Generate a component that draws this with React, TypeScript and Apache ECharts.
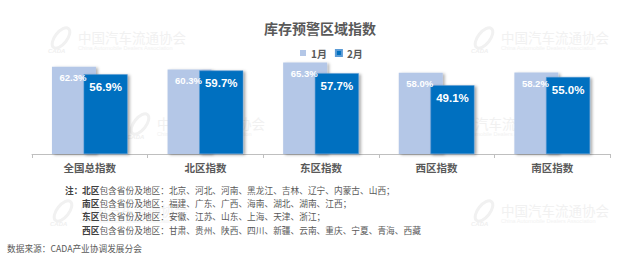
import React, { useEffect, useRef } from "react";
import * as echarts from "echarts";

const categories = ["全国总指数", "北区指数", "东区指数", "西区指数", "南区指数"];
const seriesNames = ["1月", "2月"];
const janValues = [62.3, 60.3, 65.3, 58.0, 58.2];
const febValues = [56.9, 59.7, 57.7, 49.1, 55.0];
const titleText = "库存预警区域指数";
const noteLines = [
  { region: "北区", text: "包含省份及地区：北京、河北、河南、黑龙江、吉林、辽宁、内蒙古、山西；" },
  { region: "南区", text: "包含省份及地区：福建、广东、广西、海南、湖北、湖南、江西；" },
  { region: "东区", text: "包含省份及地区：安徽、江苏、山东、上海、天津、浙江；" },
  { region: "西区", text: "包含省份及地区：甘肃、贵州、陕西、四川、新疆、云南、重庆、宁夏、青海、西藏" },
];
const notePrefix = "注：";
const sourceText = "数据来源：CADA产业协调发展分会";
const wmCn = "中国汽车流通协会";
const wmEn = "China Automobile Dealers Association";

const LABEL_FONT = "'Liberation Sans', Arial, sans-serif";
const CJK = "'Noto Sans CJK SC', 'Noto Sans', sans-serif";

export default function App() {
  const ref = useRef<HTMLDivElement>(null);
  useEffect(() => {
    if (!ref.current) return;
    const chart = echarts.init(ref.current, null, { renderer: "svg" });

    const watermark = (x: number, y: number) => [
      {
        type: "text", z: -10, x: x, y: y, silent: true,
        style: { text: wmCn, fill: "#f1f1f1", font: "13.5px 'Noto Sans CJK SC', serif", textAlign: "left", textVerticalAlign: "middle" },
      },
      {
        type: "text", z: -10, x: x, y: y + 11, silent: true,
        style: { text: wmEn, fill: "#f2f2f2", font: "5.6px 'Liberation Sans', sans-serif", textAlign: "left", textVerticalAlign: "middle" },
      },
      {
        type: "text", z: -10, x: x - 30, y: y + 14, silent: true,
        style: { text: "CADA", fill: "#efefef", font: "italic bold 6px 'Liberation Sans', sans-serif", textAlign: "left", textVerticalAlign: "middle" },
      },
      {
        type: "ellipse", z: -10, silent: true, x: x - 17, y: y + 1,
        shape: { cx: 0, cy: 0, rx: 12, ry: 6 }, rotation: 0.9,
        style: { fill: "none", stroke: "#f1f1f1", lineWidth: 3 },
      },
    ];

    const notes: any[] = [
      {
        type: "text", x: 65, y: 190,
        style: {
          text: "{b|" + notePrefix + "}",
          rich: { b: { fontSize: 8.7, fontWeight: "bold", fill: "#404040", fontFamily: CJK } },
          textVerticalAlign: "middle",
        },
      },
    ];
    noteLines.forEach((ln, i) => {
      notes.push({
        type: "text", x: 82, y: 190 + i * 13.4,
        style: {
          text: "{b|" + ln.region + "}{n|" + ln.text + "}",
          rich: {
            b: { fontSize: 8.7, fontWeight: "bold", fill: "#404040", fontFamily: CJK },
            n: { fontSize: 8.7, fill: "#595959", fontFamily: CJK },
          },
          textVerticalAlign: "middle",
        },
      });
    });
    notes.push({
      type: "text", x: 7, y: 248,
      style: { text: sourceText, fontSize: 8.7, fill: "#595959", fontFamily: CJK, textVerticalAlign: "middle" },
    });

    const labelFmt = (p: any) => Number(p.value).toFixed(1) + "%";

    chart.setOption({
      animation: false,
      backgroundColor: "#ffffff",
      grid: { left: 32, right: 20, top: 56, bottom: 104 },
      legend: {
        data: seriesNames,
        left: 295,
        top: 43,
        icon: "rect",
        itemWidth: 6,
        itemHeight: 6,
        itemGap: 8,
        textStyle: { fontSize: 10, fontWeight: "bold", color: "#595959", fontFamily: CJK },
      },
      xAxis: {
        type: "category",
        data: categories,
        axisLine: { lineStyle: { color: "#bfbfbf", width: 1 } },
        axisTick: { show: true, length: 4, lineStyle: { color: "#bfbfbf" } },
        axisLabel: { fontSize: 10.5, fontWeight: "bold", color: "#595959", margin: 8, fontFamily: CJK },
      },
      yAxis: { type: "value", min: 0, max: 70, show: false, splitLine: { show: false } },
      series: [
        {
          name: seriesNames[0],
          type: "bar",
          data: janValues,
          barWidth: 44,
          barGap: "-28%",
          itemStyle: {
            color: "#B4C7E7",
            shadowColor: "rgba(0,0,0,0.3)",
            shadowBlur: 3,
            shadowOffsetX: 2,
            shadowOffsetY: 1,
          },
          label: {
            show: true,
            position: "insideTop",
            distance: 6,
            formatter: labelFmt,
            color: "#ffffff",
            fontSize: 9.5,
            fontWeight: "bold",
            fontFamily: LABEL_FONT,
            offset: [-1, 0],
          },
        },
        {
          name: seriesNames[1],
          type: "bar",
          data: febValues,
          barWidth: 44,
          itemStyle: {
            color: "#0070C0",
            borderColor: "#5b9bd5",
            borderWidth: 0.5,
            shadowColor: "rgba(0,0,0,0.35)",
            shadowBlur: 3,
            shadowOffsetX: 2,
            shadowOffsetY: 1,
          },
          label: {
            show: true,
            position: "insideTop",
            distance: 7,
            formatter: labelFmt,
            color: "#ffffff",
            fontSize: 11.5,
            fontWeight: "bold",
            fontFamily: LABEL_FONT,
          },
        },
      ],
      graphic: [
        ...watermark(78, 37),
        ...watermark(501, 37),
        ...watermark(157, 123),
        ...watermark(448, 123),
        ...watermark(80, 210),
        ...watermark(501, 210),
        {
          type: "text", x: 320, y: 28,
          style: { text: titleText, fontSize: 14, fontWeight: "bold", fill: "#595959", fontFamily: CJK, textAlign: "center", textVerticalAlign: "middle" },
        },
        ...notes,
      ],
    });
    return () => chart.dispose();
  }, []);
  return <div ref={ref} style={{ position: "fixed", left: 0, top: 0, width: 630, height: 258 }} />;
}
